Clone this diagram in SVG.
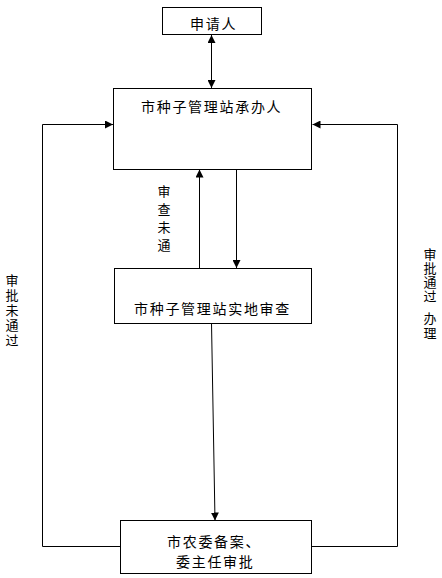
<svg xmlns="http://www.w3.org/2000/svg" width="442" height="578" viewBox="0 0 442 578">
<style>
.box{fill:#fff;stroke:#000;stroke-width:1}
.t{font-family:"Noto Sans CJK SC","Noto Sans CJK JP",sans-serif;font-size:14px;fill:#000;letter-spacing:1.7px}
.v{font-family:"Noto Sans CJK SC","Noto Sans CJK JP",sans-serif;font-size:13px;fill:#000;writing-mode:vertical-rl}
.ln{fill:none;stroke:#000;stroke-width:1}
</style>
<defs>
<marker id="ah" markerWidth="8" markerHeight="8" refX="8" refY="4" orient="auto" markerUnits="userSpaceOnUse">
<path d="M0,0 L8,4 L0,8 Z" fill="#000"/>
</marker>
<marker id="as" markerWidth="8" markerHeight="8" refX="0" refY="4" orient="auto" markerUnits="userSpaceOnUse">
<path d="M8,0 L0,4 L8,8 Z" fill="#000"/>
</marker>
</defs>
<rect width="442" height="578" fill="#fff"/>
<g id="connectors">
<line class="ln" x1="211.5" y1="35" x2="211.5" y2="88" marker-start="url(#as)" marker-end="url(#ah)"/>
<line class="ln" x1="199.5" y1="268" x2="199.5" y2="169.5" marker-end="url(#ah)"/>
<line class="ln" x1="236.5" y1="169.5" x2="236.5" y2="268" marker-end="url(#ah)"/>
<line class="ln" x1="211.5" y1="323" x2="215" y2="520.5" marker-end="url(#ah)"/>
<polyline class="ln" points="120,546.5 42.5,546.5 42.5,124.5 113,124.5" marker-end="url(#ah)"/>
<polyline class="ln" points="312,546.5 397.5,546.5 397.5,124.5 312.5,124.5" marker-end="url(#ah)"/>
<text class="v" x="164" y="185" letter-spacing="4.7">审查未通</text>
<text class="v" x="12" y="274" letter-spacing="2">审批未通过</text>
<text class="v" x="430" y="248" letter-spacing="1">审批通过</text>
<text class="v" x="430" y="312" letter-spacing="2">办理</text>
</g>
<g id="applicant">
<rect class="box" x="162.5" y="7.5" width="99" height="27"/>
<text class="t" x="190" y="29">申请人</text>
</g>
<g id="handler">
<rect class="box" x="113.5" y="88.5" width="198" height="81"/>
<text class="t" x="141" y="112">市种子管理站承办人</text>
</g>
<g id="inspection">
<rect class="box" x="114.5" y="268.5" width="197" height="55"/>
<text class="t" x="134" y="314">市种子管理站实地审查</text>
</g>
<g id="approval">
<rect class="box" x="120.5" y="520.5" width="191" height="53"/>
<text class="t" x="167" y="547">市农委备案、</text>
<text class="t" x="176" y="567">委主任审批</text>
</g>
</svg>
